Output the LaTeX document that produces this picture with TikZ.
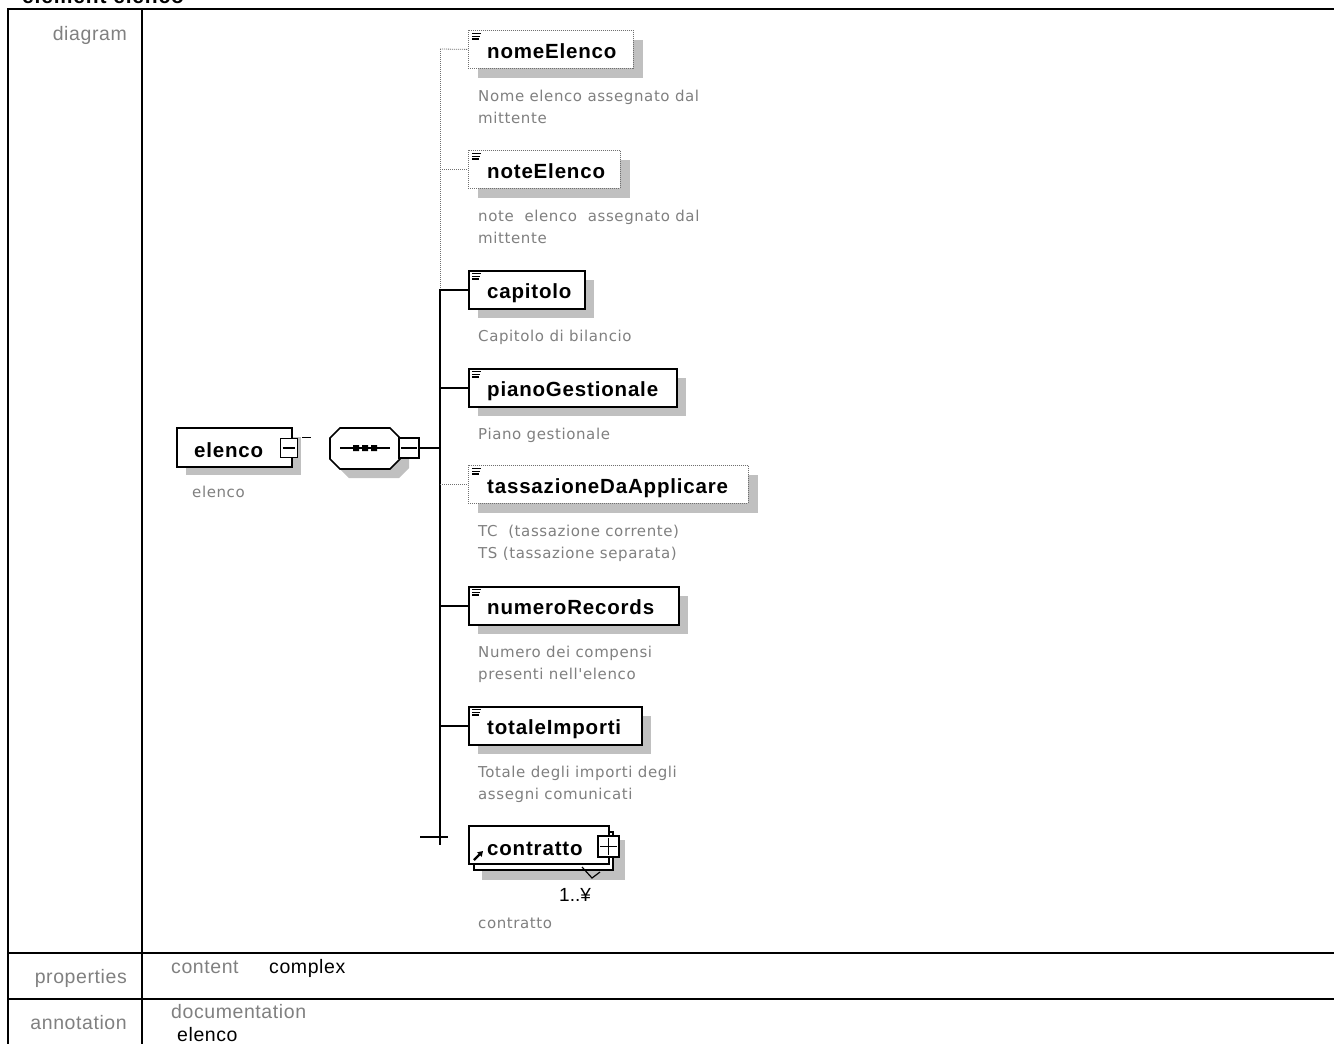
\documentclass[tikz,border=0pt]{standalone}
\usepackage{fontspec}
\usetikzlibrary{calc,arrows.meta}
\setmainfont{Liberation Sans}
\newfontfamily\namefont[LetterSpace=4]{Liberation Sans}
\newfontfamily\descfont[LetterSpace=4]{DejaVu Sans}
\newfontfamily\tabfont[LetterSpace=3]{Liberation Sans}
\definecolor{shadowc}{HTML}{C0C0C0}
\definecolor{greyt}{HTML}{808080}
\definecolor{optc}{HTML}{707070}
\tikzset{
  ebox/.style={draw=black,fill=white,minimum height=38,inner sep=0pt,line width=1.6pt},
  reqb/.style={draw=black,line width=1.6pt},
  optb/.style={draw=optc,line width=0.8pt,dash pattern=on 1pt off 1pt},
  ename/.style={inner sep=0pt,font=\namefont\bfseries\fontsize{20.5}{24}\selectfont},
  desc/.style={inner sep=0pt,text=greyt,font=\descfont\fontsize{15}{22}\selectfont},
  tabl/.style={inner sep=0pt,text=greyt,font=\tabfont\fontsize{19.5}{23}\selectfont},
  tabv/.style={inner sep=0pt,text=black,font=\tabfont\fontsize{19.5}{23}\selectfont},
  iconl/.style={line width=1.3pt,draw=black},
  reqline/.style={draw=black,line width=1.6pt},
  optline/.style={draw=optc,line width=0.8pt,dash pattern=on 1pt off 1pt},
  tline/.style={draw=black,line width=2pt},
  minusbox/.style={draw=black,fill=white,line width=1.8pt,minimum width=17,minimum height=19,inner sep=0pt},
}
\newcommand\xelem[5]{%
  \fill[shadowc] (478,#3+10) rectangle (#2+10,#3+48);
  \node[ebox,#5,minimum width={#2-468},anchor=north west] (#1) at (468,#3) {};
  \node[ename,anchor=base west] (#1-t) at (487,#3+28) {#4};
  \draw[iconl] (472,#3+3.5) -- ++(9,0) (472,#3+6.2) -- ++(8,0) (472,#3+8.9) -- ++(7,0);
}
\begin{document}
\begin{tikzpicture}[x=1pt,y=-1pt]
\useasboundingbox (0,0) rectangle (1334,1044);
\fill[white] (0,0) rectangle (1334,1044);
% title (cut off by the page edge, as in the reference)
\node[anchor=base west,inner sep=0pt,font=\namefont\bfseries\fontsize{21}{24}\selectfont] (title) at (22,4) {element elenco};
% table
\draw[tline] (8,1050) -- (8,9) -- (1340,9);
\draw[tline] (142,9) -- (142,1050);
\draw[tline] (8,953) -- (1340,953);
\draw[tline] (8,999) -- (1340,999);
\node[tabl,anchor=base east] (ldiag) at (127,40) {diagram};
\node[tabl,anchor=base east] (lprop) at (127,983) {properties};
\node[tabl,anchor=base east] (lann) at (127,1029) {annotation};
\node[tabl,anchor=base west] (lcont) at (171,973) {content};
\node[tabv,anchor=base west] (lcomp) at (269,973) {complex};
\node[tabl,anchor=base west] (ldoc) at (171,1018) {documentation};
\node[tabv,anchor=base west] (ldocv) at (177,1041) {elenco};

% root element elenco
\fill[shadowc] (186,437) rectangle (301,475);
\node[ebox,minimum width=115,minimum height=39,anchor=north west] (elenco) at (176,427) {};
\node[ename,anchor=base west] (elenco-t) at (194,457) {elenco};
\node[minusbox] (elm) at (289,448) {};
\draw[line width=1.3pt] ($(elm.west)+(3,0)$) -- ($(elm.east)+(-3,0)$);
\draw[line width=1.2pt] ($(elm.north east)+(4,0)$) -- ++(9,0);
\node[desc,anchor=base west] (elenco-d) at (192,497) {elenco};

% sequence compositor
\coordinate (seqc) at (365,448);
\fill[shadowc] (349,437) -- (399,437) -- (409,447) -- (409,468) -- (399,478) -- (349,478) -- (339,468) -- (339,447) -- cycle;
\filldraw[fill=white,draw=black,line width=1.6pt] (340,428) -- (390,428) -- (400,438) -- (400,459) -- (390,469) -- (340,469) -- (330,459) -- (330,438) -- cycle;
\draw[line width=1.3pt] (340,448) -- (390,448);
\fill[black] (353,445) rectangle (359,451) (362,445) rectangle (368,451) (371,445) rectangle (377,451);
\node[minusbox,minimum width=20,minimum height=20] (seqm) at (409,448) {};
\draw[line width=1.3pt] ($(seqm.west)+(3,0)$) -- ($(seqm.east)+(-3,0)$);

% bar
\coordinate (bartop) at (440,49);
\coordinate (barjoin) at (440,289);
\coordinate (barbot) at (440,845);
\draw[reqline] (seqm.east) -- (seqm.east -| barjoin);
\draw[optline] (bartop) -- (barjoin);
\draw[reqline] (barjoin) -- (barbot);

% children
\xelem{nome}{633}{30}{nomeElenco}{optb}
\xelem{note}{620}{150}{noteElenco}{optb}
\xelem{capi}{584}{270}{capitolo}{reqb}
\xelem{piano}{676}{368}{pianoGestionale}{reqb}
\xelem{tass}{748}{465}{tassazioneDaApplicare}{optb}
\xelem{numero}{678}{586}{numeroRecords}{reqb}
\xelem{totale}{641}{706}{totaleImporti}{reqb}

\draw[optline] (bartop) -- (nome.west);
\draw[optline] (note.west -| bartop) -- (note.west);
\draw[reqline] (capi.west -| barjoin) -- (capi.west);
\draw[reqline] (piano.west -| barjoin) -- (piano.west);
\draw[optline] (tass.west -| barjoin) -- (tass.west);
\draw[reqline] (numero.west -| barjoin) -- (numero.west);
\draw[reqline] (totale.west -| barjoin) -- (totale.west);

\node[desc,anchor=base west] (nome-d1) at (478,101) {Nome elenco assegnato dal};
\node[desc,anchor=base west] (nome-d2) at (478,123) {mittente};
\node[desc,anchor=base west] (note-d1) at (478,221) {note\ \ elenco\ \ assegnato dal};
\node[desc,anchor=base west] (note-d2) at (478,243) {mittente};
\node[desc,anchor=base west] (capi-d1) at (478,341) {Capitolo di bilancio};
\node[desc,anchor=base west] (piano-d1) at (478,439) {Piano gestionale};
\node[desc,anchor=base west] (tass-d1) at (478,536) {TC\ \ (tassazione corrente)};
\node[desc,anchor=base west] (tass-d2) at (478,558) {TS (tassazione separata)};
\node[desc,anchor=base west] (numero-d1) at (478,657) {Numero dei compensi};
\node[desc,anchor=base west] (numero-d2) at (478,679) {presenti nell'elenco};
\node[desc,anchor=base west] (totale-d1) at (478,777) {Totale degli importi degli};
\node[desc,anchor=base west] (totale-d2) at (478,799) {assegni comunicati};

% contratto (multiple, reference)
\fill[shadowc] (482,840) rectangle (625,880);
\draw[reqb,fill=white] (474,832) rectangle (613,870);
\node[ebox,minimum width=140,anchor=north west] (contr) at (468,825) {};
\node[ename,anchor=base west] (contr-t) at (487,855) {contratto};
\node[minusbox,minimum width=21,minimum height=21] (contrp) at (608.5,846.5) {};
\draw[line width=1.3pt] ($(contrp.west)+(3,0)$) -- ($(contrp.east)+(-3,0)$) ($(contrp.north)+(0,3)$) -- ($(contrp.south)+(0,-3)$);
\draw[-{Triangle[length=5pt,width=6pt]},line width=2.2pt] (474,860) -- (483,851);
\draw[line width=1.2pt] (582,867) -- (592,878) -- (600,872);
\node[inner sep=0pt,anchor=base west,font=\fontsize{19}{22}\selectfont] (contr-m) at (559,901) {1..¥};
\draw[line width=1.5pt] (420,837) -- (448,837);
\node[desc,anchor=base west] (contr-d) at (478,928) {contratto};
\end{tikzpicture}
\end{document}
